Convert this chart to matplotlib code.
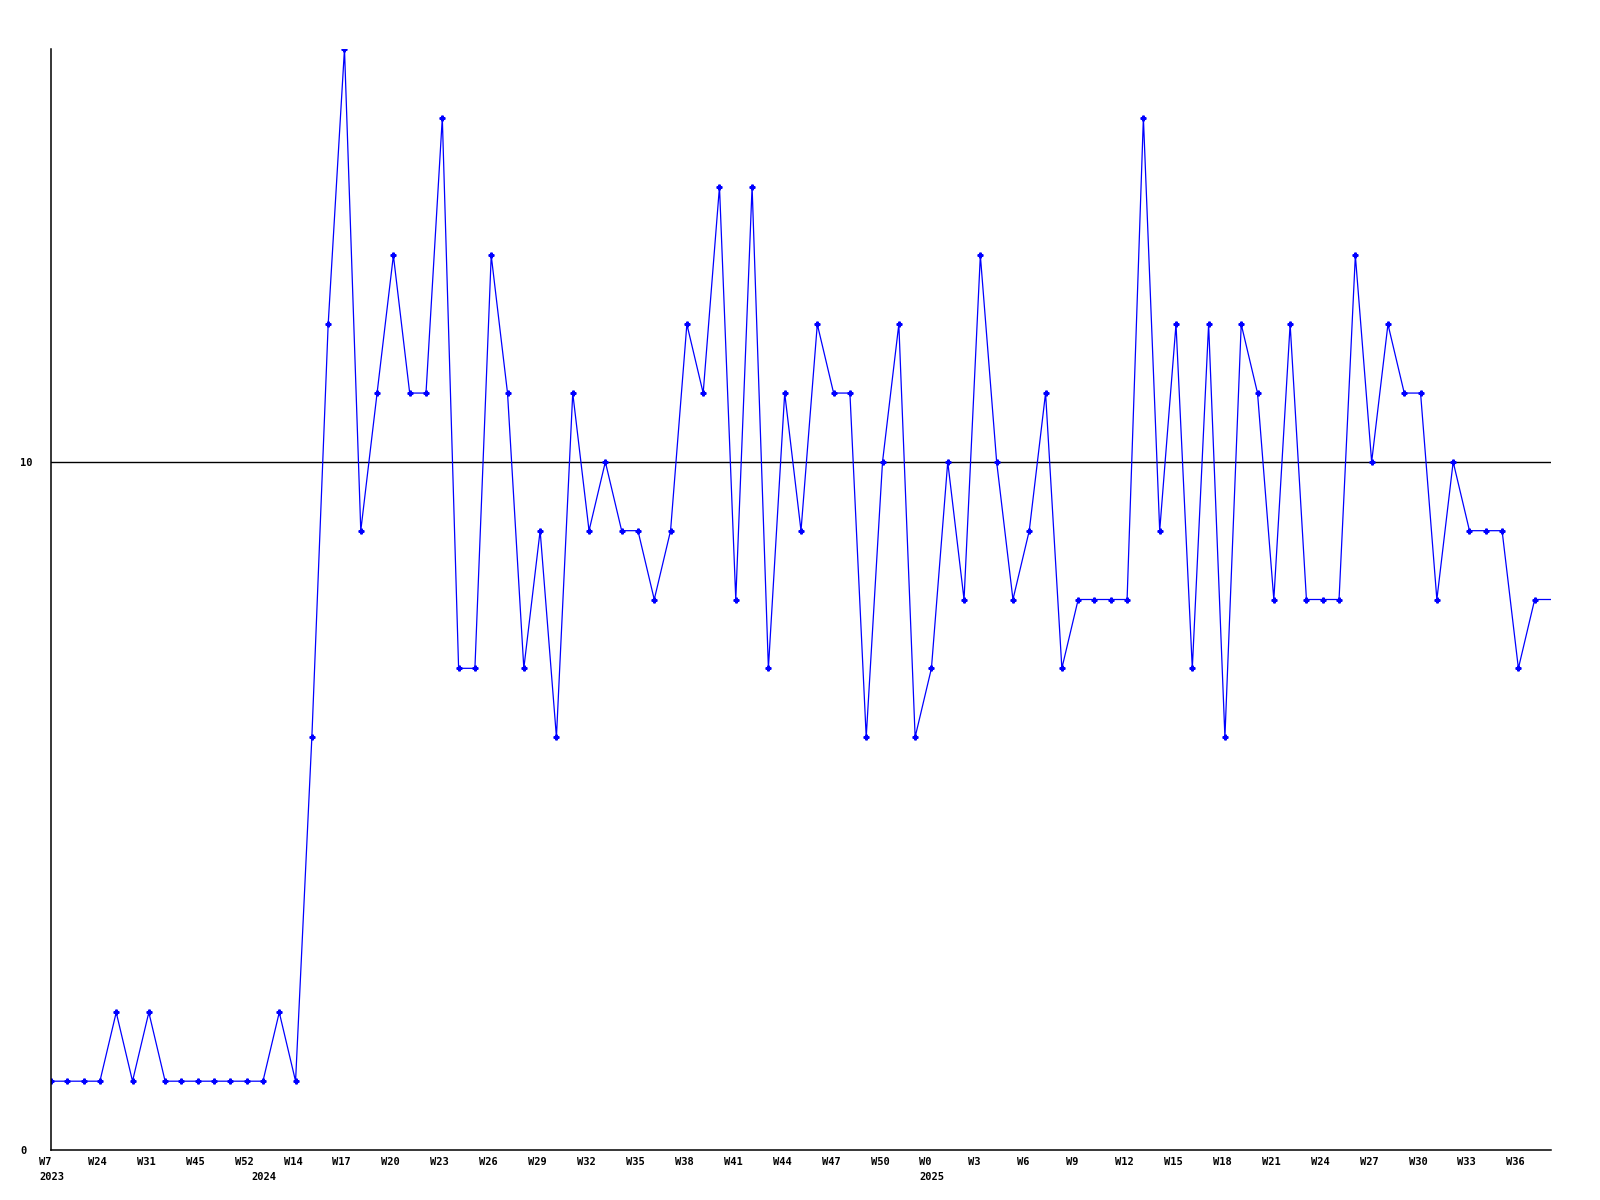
import numpy as np
import matplotlib
matplotlib.use("Agg")
import matplotlib.pyplot as plt
from matplotlib import transforms

# weekly counts, one entry per data week (last entry is the open week, drawn without marker)
values = [1, 1, 1, 1, 2, 1, 2, 1, 1, 1, 1, 1, 1, 1, 2, 1,
          6, 12, 16, 9, 11, 13, 11, 11, 15, 7, 7, 13, 11, 7, 9, 6,
          11, 9, 10, 9, 9, 8, 9, 12, 11, 14, 8, 14, 7, 11, 9, 12,
          11, 11, 6, 10, 12, 6, 7, 10, 8, 13, 10, 8, 9, 11, 7, 8,
          8, 8, 8, 15, 9, 12, 7, 12, 6, 12, 11, 8, 12, 8, 8, 8,
          13, 10, 12, 11, 11, 8, 10, 9, 9, 9, 7, 8, 8]

# labels every third week
week_labels = ['W7', 'W24', 'W31', 'W45', 'W52', 'W14', 'W17', 'W20', 'W23',
               'W26', 'W29', 'W32', 'W35', 'W38', 'W41', 'W44', 'W47', 'W50',
               'W0', 'W3', 'W6', 'W9', 'W12', 'W15', 'W18', 'W21', 'W24',
               'W27', 'W30', 'W33', 'W36']
year_labels = ['2023', '2024', '2025']
year_start_idx = [0, 13, 54]

y_ticks = [0, 10]
y_max = 16

fig = plt.figure(figsize=(16, 12), dpi=100)
ax = fig.add_axes([51 / 1600, 1 - 1150 / 1200, 1500 / 1600, 1101 / 1200])

x = np.arange(len(values))
ax.plot(x, values, color='#0000ff', linewidth=0.9,
        marker='P', markersize=3.5, markevery=list(range(len(values) - 1)))

ax.axhline(10, color='black', linewidth=1.0, zorder=0)

ax.set_xlim(0, len(values) - 1)
ax.set_ylim(0, y_max)

for s in ['top', 'right']:
    ax.spines[s].set_visible(False)
for s in ['left', 'bottom']:
    ax.spines[s].set_linewidth(1.1)
    ax.spines[s].set_color('black')

font = dict(family='DejaVu Sans Mono', weight='bold', size=7.5)

ax.set_yticks(y_ticks)
ax.set_yticklabels([str(t) for t in y_ticks], ha='left', **font)
ax.tick_params(axis='y', length=0, pad=22)
ax.set_xticks([])

# week and year labels under the axis, left-aligned a little before each point
offset = transforms.ScaledTranslation(-12 / 100, 0, fig.dpi_scale_trans)
trans = transforms.blended_transform_factory(ax.transData, ax.transAxes) + offset
for i, lab in enumerate(week_labels):
    ax.text(i * 3, -0.0105, lab, transform=trans, ha='left', va='center', **font)
for idx, yr in zip(year_start_idx, year_labels):
    ax.text(idx, -0.0245, yr, transform=trans, ha='left', va='center', **font)

fig.savefig('out.png', dpi=100, facecolor='white')
